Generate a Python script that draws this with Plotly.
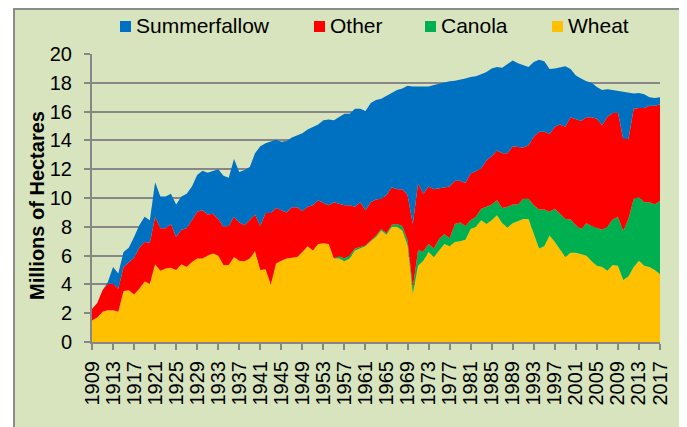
import plotly.graph_objects as go

# Saskatchewan cropland by use, millions of hectares, 1909-2017
years = list(range(1909, 2018))

wheat = [
    1.5, 1.7, 2.1, 2.2, 2.2, 2.1, 3.55, 3.6, 3.3, 3.7,
    4.2, 4.05, 5.4, 4.95, 5.1, 5.15, 5.0, 5.4, 5.2, 5.55,
    5.8, 5.8, 6.0, 6.15, 6.0, 5.35, 5.35, 5.9, 5.65, 5.6,
    5.8, 6.3, 5.0, 5.05, 4.0, 5.45, 5.65, 5.8, 5.85, 5.9,
    6.25, 6.65, 6.35, 6.8, 6.85, 6.8, 5.8, 5.8, 5.6, 5.8,
    6.35, 6.5, 6.65, 7.0, 7.3, 7.75, 7.45, 8.0, 8.0, 7.75,
    6.7, 3.35, 5.3, 5.65, 6.25, 5.9, 6.35, 6.8, 6.65, 6.95,
    7.0, 7.1, 7.85, 8.0, 8.45, 8.2, 8.45, 8.8, 8.25, 7.95,
    8.25, 8.4, 8.55, 8.55, 7.5, 6.5, 6.65, 7.4, 6.95, 6.4,
    5.9, 6.2, 6.2, 6.1, 6.0, 5.6, 5.3, 5.2, 4.95, 5.35,
    5.3, 4.3, 4.55, 5.2, 5.65, 5.3, 5.2, 5.0, 4.7,
]

canola = [
    0, 0, 0, 0, 0, 0, 0, 0, 0, 0,
    0, 0, 0, 0, 0, 0, 0, 0, 0, 0,
    0, 0, 0, 0, 0, 0, 0, 0, 0, 0,
    0, 0, 0, 0, 0, 0, 0, 0, 0, 0,
    0, 0, 0, 0, 0, 0, 0, 0.15, 0.2, 0.2,
    0.15, 0.1, 0.05, 0.05, 0.1, 0.1, 0.1, 0.15, 0.2, 0.3,
    0.35, 0.45, 1.05, 0.65, 0.55, 0.6, 0.8, 0.7, 0.55, 1.25,
    1.3, 0.95, 0.6, 0.7, 0.8, 1.2, 1.1, 1.05, 1.05, 1.45,
    1.3, 1.15, 1.4, 1.4, 2.0, 2.7, 2.55, 1.65, 2.3, 2.5,
    2.65, 2.3, 1.9, 1.75, 2.25, 2.45, 2.6, 2.6, 3.05, 3.15,
    3.4, 3.4, 4.0, 4.75, 4.4, 4.4, 4.5, 4.55, 5.1,
]

other = [
    0.8, 1.0, 1.5, 1.85, 1.85, 1.6, 1.65, 1.9, 2.55, 2.85,
    2.75, 2.85, 3.3, 2.95, 2.8, 3.05, 2.3, 2.4, 2.7, 2.9,
    3.25, 3.35, 2.85, 2.75, 2.55, 2.65, 2.7, 2.8, 2.65, 2.5,
    2.65, 2.55, 3.05, 3.9, 4.95, 3.85, 3.5, 3.2, 3.5, 3.45,
    2.85, 2.75, 3.15, 3.05, 2.8, 2.7, 3.9, 3.65, 3.7, 3.5,
    2.9, 3.1, 2.45, 2.65, 2.5, 2.1, 2.65, 2.6, 2.4, 2.55,
    3.15, 4.4, 4.65, 4.0, 4.0, 4.1, 3.5, 3.2, 3.6, 3.0,
    2.9, 3.0, 3.25, 3.15, 2.8, 3.2, 3.35, 3.45, 3.8, 3.7,
    4.05, 4.0, 3.55, 3.7, 4.75, 5.4, 5.4, 5.4, 5.7, 6.2,
    6.4, 7.1, 7.35, 7.5, 7.35, 7.55, 7.6, 7.25, 7.65, 7.4,
    7.25, 6.4, 5.55, 6.25, 6.2, 6.55, 6.7, 6.85, 6.7,
]

summerfallow = [
    0, 0, 0, 0.1, 1.15, 1.05, 1.05, 1.05, 1.45, 1.55,
    1.75, 1.55, 2.4, 2.2, 2.2, 2.1, 2.25, 2.3, 2.4, 2.35,
    2.55, 2.75, 2.9, 3.0, 3.45, 3.55, 3.35, 4.0, 3.5, 3.85,
    3.7, 4.25, 5.55, 4.85, 4.95, 4.75, 4.75, 4.95, 4.85, 5.0,
    5.4, 5.35, 5.4, 5.25, 5.75, 5.95, 5.7, 6.0, 6.35, 6.35,
    6.8, 6.5, 6.9, 6.9, 6.9, 6.95, 6.9, 6.55, 6.9, 7.0,
    7.6, 9.55, 6.75, 7.5, 6.95, 7.25, 7.3, 7.3, 7.3, 6.95,
    7.0, 7.25, 6.7, 6.6, 6.55, 6.15, 6.1, 5.8, 5.95, 6.2,
    5.95, 5.8, 5.7, 5.45, 5.2, 5.0, 4.9, 4.5, 4.05, 3.95,
    4.2, 3.35, 3.05, 2.95, 2.5, 2.4, 2.2, 2.45, 1.9, 1.6,
    1.5, 3.25, 3.2, 1.05, 1.05, 0.95, 0.6, 0.55, 0.5,
]

tick_years = list(range(1909, 2018, 4))
y_ticks = [0, 2, 4, 6, 8, 10, 12, 14, 16, 18, 20]
y_title = 'Millions of Hectares'

# bottom to top
series = [
    ('Wheat', wheat, '#FFC000'),
    ('Canola', canola, '#00B050'),
    ('Other', other, '#FF0000'),
    ('Summerfallow', summerfallow, '#0070C0'),
]

# the page body adds an 8px margin, so the figure is 8px smaller
# and page positions below are shifted by that amount
OFF = 8
W, H = 687 - OFF, 427 - OFF
L, R, T, B = 92 - OFF, 27, 54 - OFF, 85
pw, ph = W - L - R, H - T - B
bg = '#D7E4BD'
grey = '#878787'
font = 'Liberation Sans, Arial, sans-serif'


def px(x):
    # page x pixel -> paper coordinate
    return (x - OFF - L) / pw


def py(y):
    # page y pixel -> paper coordinate
    return (H - B - (y - OFF)) / ph


fig = go.Figure()
for name, vals, col in series:
    fig.add_trace(go.Scatter(x=years, y=vals, name=name, mode='lines',
                             stackgroup='one', line=dict(width=0, color=col),
                             fillcolor=col, showlegend=False))

# outer frame of the chart
shapes = [dict(type='rect', xref='paper', yref='paper', layer='below',
               x0=px(14), x1=px(684), y0=py(440), y1=py(9),
               fillcolor=bg, line=dict(color='#8C8C8C', width=2))]

# legend drawn by hand: Excel style small squares
legend_pos = {'Summerfallow': 120, 'Other': 314, 'Canola': 425, 'Wheat': 552}
annotations = []
for name, vals, col in series:
    x0 = legend_pos[name]
    shapes.append(dict(type='rect', xref='paper', yref='paper',
                       x0=px(x0), x1=px(x0 + 11), y0=py(32), y1=py(21),
                       fillcolor=col, line=dict(width=0)))
    annotations.append(dict(text=name, xref='paper', yref='paper',
                            x=px(x0 + 14), y=py(25), xanchor='left',
                            yanchor='middle', showarrow=False,
                            font=dict(size=21, color='#000000', family=font)))

# axis title, sits a bit below the middle of the plot like the original
annotations.append(dict(text='<b>' + y_title + '</b>', xref='paper',
                        yref='paper', x=px(37), y=py(206), textangle=-90,
                        xanchor='center', yanchor='middle', showarrow=False,
                        font=dict(size=20, color='#000000', family=font)))

fig.update_layout(
    width=W, height=H,
    margin=dict(l=L, r=R, t=T, b=B),
    paper_bgcolor='white',
    plot_bgcolor='rgba(0,0,0,0)',
    font=dict(family=font, size=20, color='#000000'),
    shapes=shapes,
    annotations=annotations,
    showlegend=False,
)

fig.update_xaxes(range=[1909, 2017], tickvals=tick_years, tickangle=-90,
                 ticks='outside', ticklen=6, tickwidth=2, tickcolor=grey,
                 showline=True, linecolor=grey, linewidth=2, showgrid=False,
                 zeroline=False, tickfont=dict(size=20), ticklabelstandoff=3)

fig.update_yaxes(range=[0, 20], tickvals=y_ticks, ticks='outside', ticklen=6,
                 tickwidth=2, tickcolor=grey, showline=True, linecolor=grey,
                 linewidth=2, showgrid=True, gridcolor=grey, gridwidth=2,
                 zeroline=False, tickfont=dict(size=20), ticklabelstandoff=8)

fig.write_html("out.html")
